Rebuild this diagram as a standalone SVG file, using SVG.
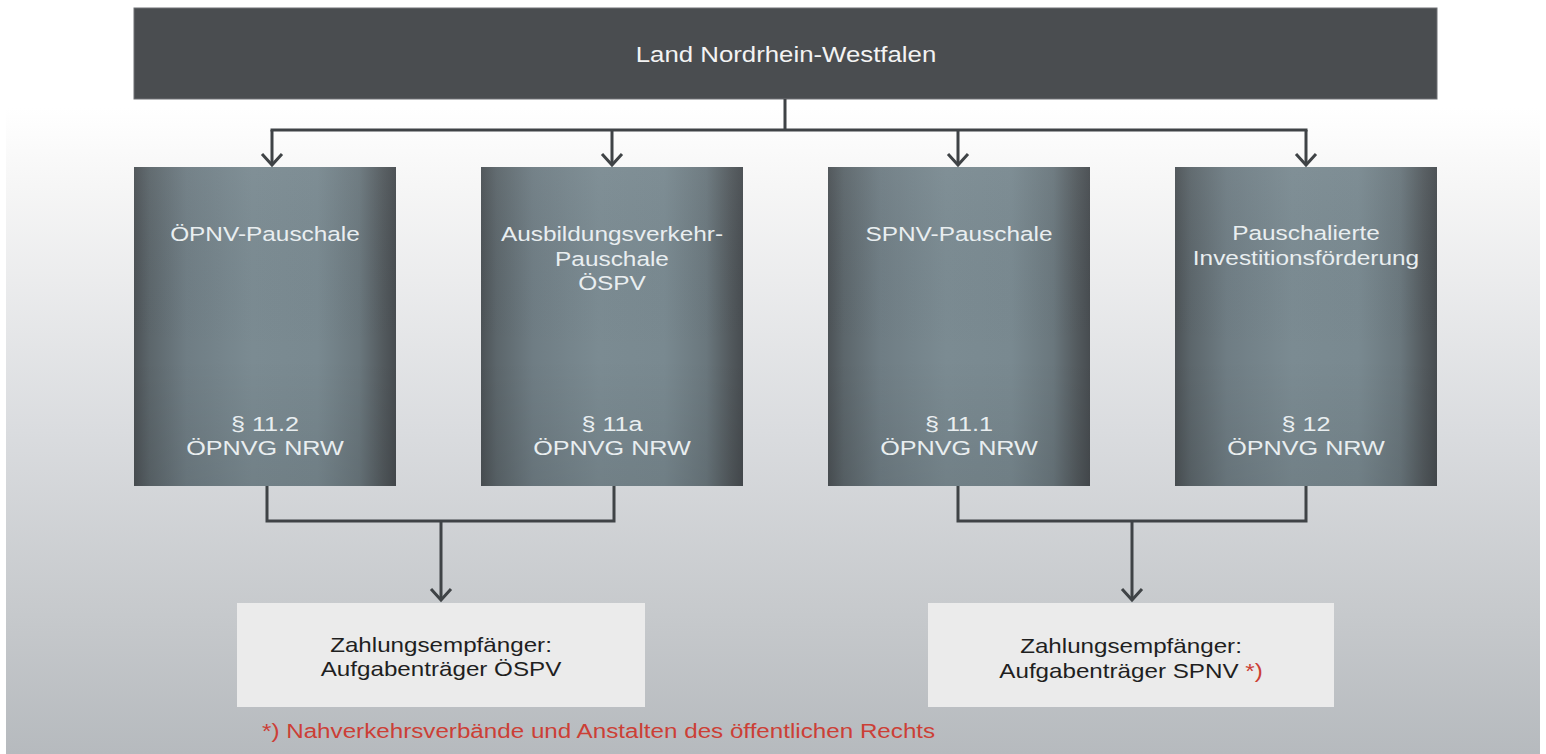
<svg xmlns="http://www.w3.org/2000/svg" width="1546" height="754" viewBox="0 0 1546 754">
<defs>
<linearGradient id="bg" x1="0" y1="0" x2="0" y2="1">
<stop offset="0" stop-color="#ffffff"/>
<stop offset="0.12" stop-color="#f6f6f6"/>
<stop offset="0.5" stop-color="#dadcdf"/>
<stop offset="0.8" stop-color="#c5c8cb"/>
<stop offset="1" stop-color="#b6babe"/>
</linearGradient>
<linearGradient id="col" x1="0" y1="0" x2="1" y2="0">
<stop offset="0" stop-color="#4c5256"/>
<stop offset="0.06" stop-color="#5c666b"/>
<stop offset="0.2" stop-color="#6f7d84"/>
<stop offset="0.45" stop-color="#7b8b92"/>
<stop offset="0.7" stop-color="#798990"/>
<stop offset="0.86" stop-color="#6a777d"/>
<stop offset="0.95" stop-color="#535a5e"/>
<stop offset="1" stop-color="#474c50"/>
</linearGradient>
<linearGradient id="colv" x1="0" y1="0" x2="0" y2="1">
<stop offset="0" stop-color="#ffffff" stop-opacity="0.04"/>
<stop offset="0.6" stop-color="#000000" stop-opacity="0"/>
<stop offset="1" stop-color="#000000" stop-opacity="0.08"/>
</linearGradient>
<marker id="arr" markerUnits="userSpaceOnUse" markerWidth="30" markerHeight="30" refX="0" refY="0" orient="auto" overflow="visible">
<path d="M-11,-10 L0,0 L-11,10" fill="none" stroke="#3f4346" stroke-width="3" stroke-linejoin="miter"/>
</marker>
</defs>
<style>
text{font-family:"Liberation Sans",Arial,sans-serif;font-size:20.5px;text-anchor:middle}
.lt{fill:#e9eef0}
.law{font-size:21px}
.top{fill:#f3f3f3;font-size:21.5px}
.dk{fill:#1f1f1f}
.red{fill:#cc3f36}
.fn{font-size:20px;text-anchor:start}
.colbox{fill:url(#col)}
.shade{fill:url(#colv)}
.rcv{fill:#ebebeb}
.ln{fill:none;stroke:#3f4346;stroke-width:3}
</style>
<rect x="0" y="0" width="1546" height="754" fill="#ffffff"/>
<rect x="6" y="108" width="1534" height="646" fill="url(#bg)"/>

<g id="land">
<rect x="134" y="8" width="1303" height="91" fill="#4a4d50" stroke="#6e7174" stroke-width="1"/>
<text class="top" transform="translate(786,62) scale(1.2,1)">Land Nordrhein-Westfalen</text>
</g>

<g id="oepnv">
<rect class="colbox" x="134" y="167" width="262" height="319"/>
<rect class="shade" x="134" y="167" width="262" height="319"/>
<text class="lt" transform="translate(265,241) scale(1.19,1)">ÖPNV-Pauschale</text>
<text class="lt law" transform="translate(265,431) scale(1.2,1)">§ 11.2</text>
<text class="lt law" transform="translate(265,455) scale(1.2,1)">ÖPNVG NRW</text>
</g>

<g id="ausbildung">
<rect class="colbox" x="481" y="167" width="262" height="319"/>
<rect class="shade" x="481" y="167" width="262" height="319"/>
<text class="lt" transform="translate(612,241) scale(1.19,1)">Ausbildungsverkehr-</text>
<text class="lt" transform="translate(612,266) scale(1.19,1)">Pauschale</text>
<text class="lt" transform="translate(612,290) scale(1.19,1)">ÖSPV</text>
<text class="lt law" transform="translate(612,431) scale(1.2,1)">§ 11a</text>
<text class="lt law" transform="translate(612,455) scale(1.2,1)">ÖPNVG NRW</text>
</g>

<g id="spnv">
<rect class="colbox" x="828" y="167" width="262" height="319"/>
<rect class="shade" x="828" y="167" width="262" height="319"/>
<text class="lt" transform="translate(959,241) scale(1.19,1)">SPNV-Pauschale</text>
<text class="lt law" transform="translate(959,431) scale(1.2,1)">§ 11.1</text>
<text class="lt law" transform="translate(959,455) scale(1.2,1)">ÖPNVG NRW</text>
</g>

<g id="invest">
<rect class="colbox" x="1175" y="167" width="262" height="319"/>
<rect class="shade" x="1175" y="167" width="262" height="319"/>
<text class="lt" transform="translate(1306,240) scale(1.19,1)">Pauschalierte</text>
<text class="lt" transform="translate(1306,265) scale(1.19,1)">Investitionsförderung</text>
<text class="lt law" transform="translate(1306,431) scale(1.2,1)">§ 12</text>
<text class="lt law" transform="translate(1306,455) scale(1.2,1)">ÖPNVG NRW</text>
</g>

<g id="empf-oespv">
<rect class="rcv" x="237" y="603" width="408" height="104"/>
<text class="dk" transform="translate(441,652) scale(1.18,1)">Zahlungsempfänger:</text>
<text class="dk" transform="translate(441,676) scale(1.18,1)">Aufgabenträger ÖSPV</text>
</g>

<g id="empf-spnv">
<rect class="rcv" x="928" y="603" width="406" height="104"/>
<text class="dk" transform="translate(1131,653) scale(1.18,1)">Zahlungsempfänger:</text>
<text class="dk" transform="translate(1131,678) scale(1.18,1)">Aufgabenträger SPNV <tspan class="red">*)</tspan></text>
</g>

<g id="footnote">
<text class="red fn" transform="translate(262,738) scale(1.21,1)">*) Nahverkehrsverbände und Anstalten des öffentlichen Rechts</text>
</g>

<g id="connectors">
<path class="ln" d="M785,99 V130 M270.5,130 H1307.5"/>
<path class="ln" d="M272,130 V165" marker-end="url(#arr)"/>
<path class="ln" d="M612,130 V165" marker-end="url(#arr)"/>
<path class="ln" d="M958,130 V165" marker-end="url(#arr)"/>
<path class="ln" d="M1306,130 V165" marker-end="url(#arr)"/>
<path class="ln" d="M267,486 V521 H614 V486"/>
<path class="ln" d="M441,521 V600" marker-end="url(#arr)"/>
<path class="ln" d="M958,486 V521 H1306 V486"/>
<path class="ln" d="M1132,521 V600" marker-end="url(#arr)"/>
</g>
</svg>
